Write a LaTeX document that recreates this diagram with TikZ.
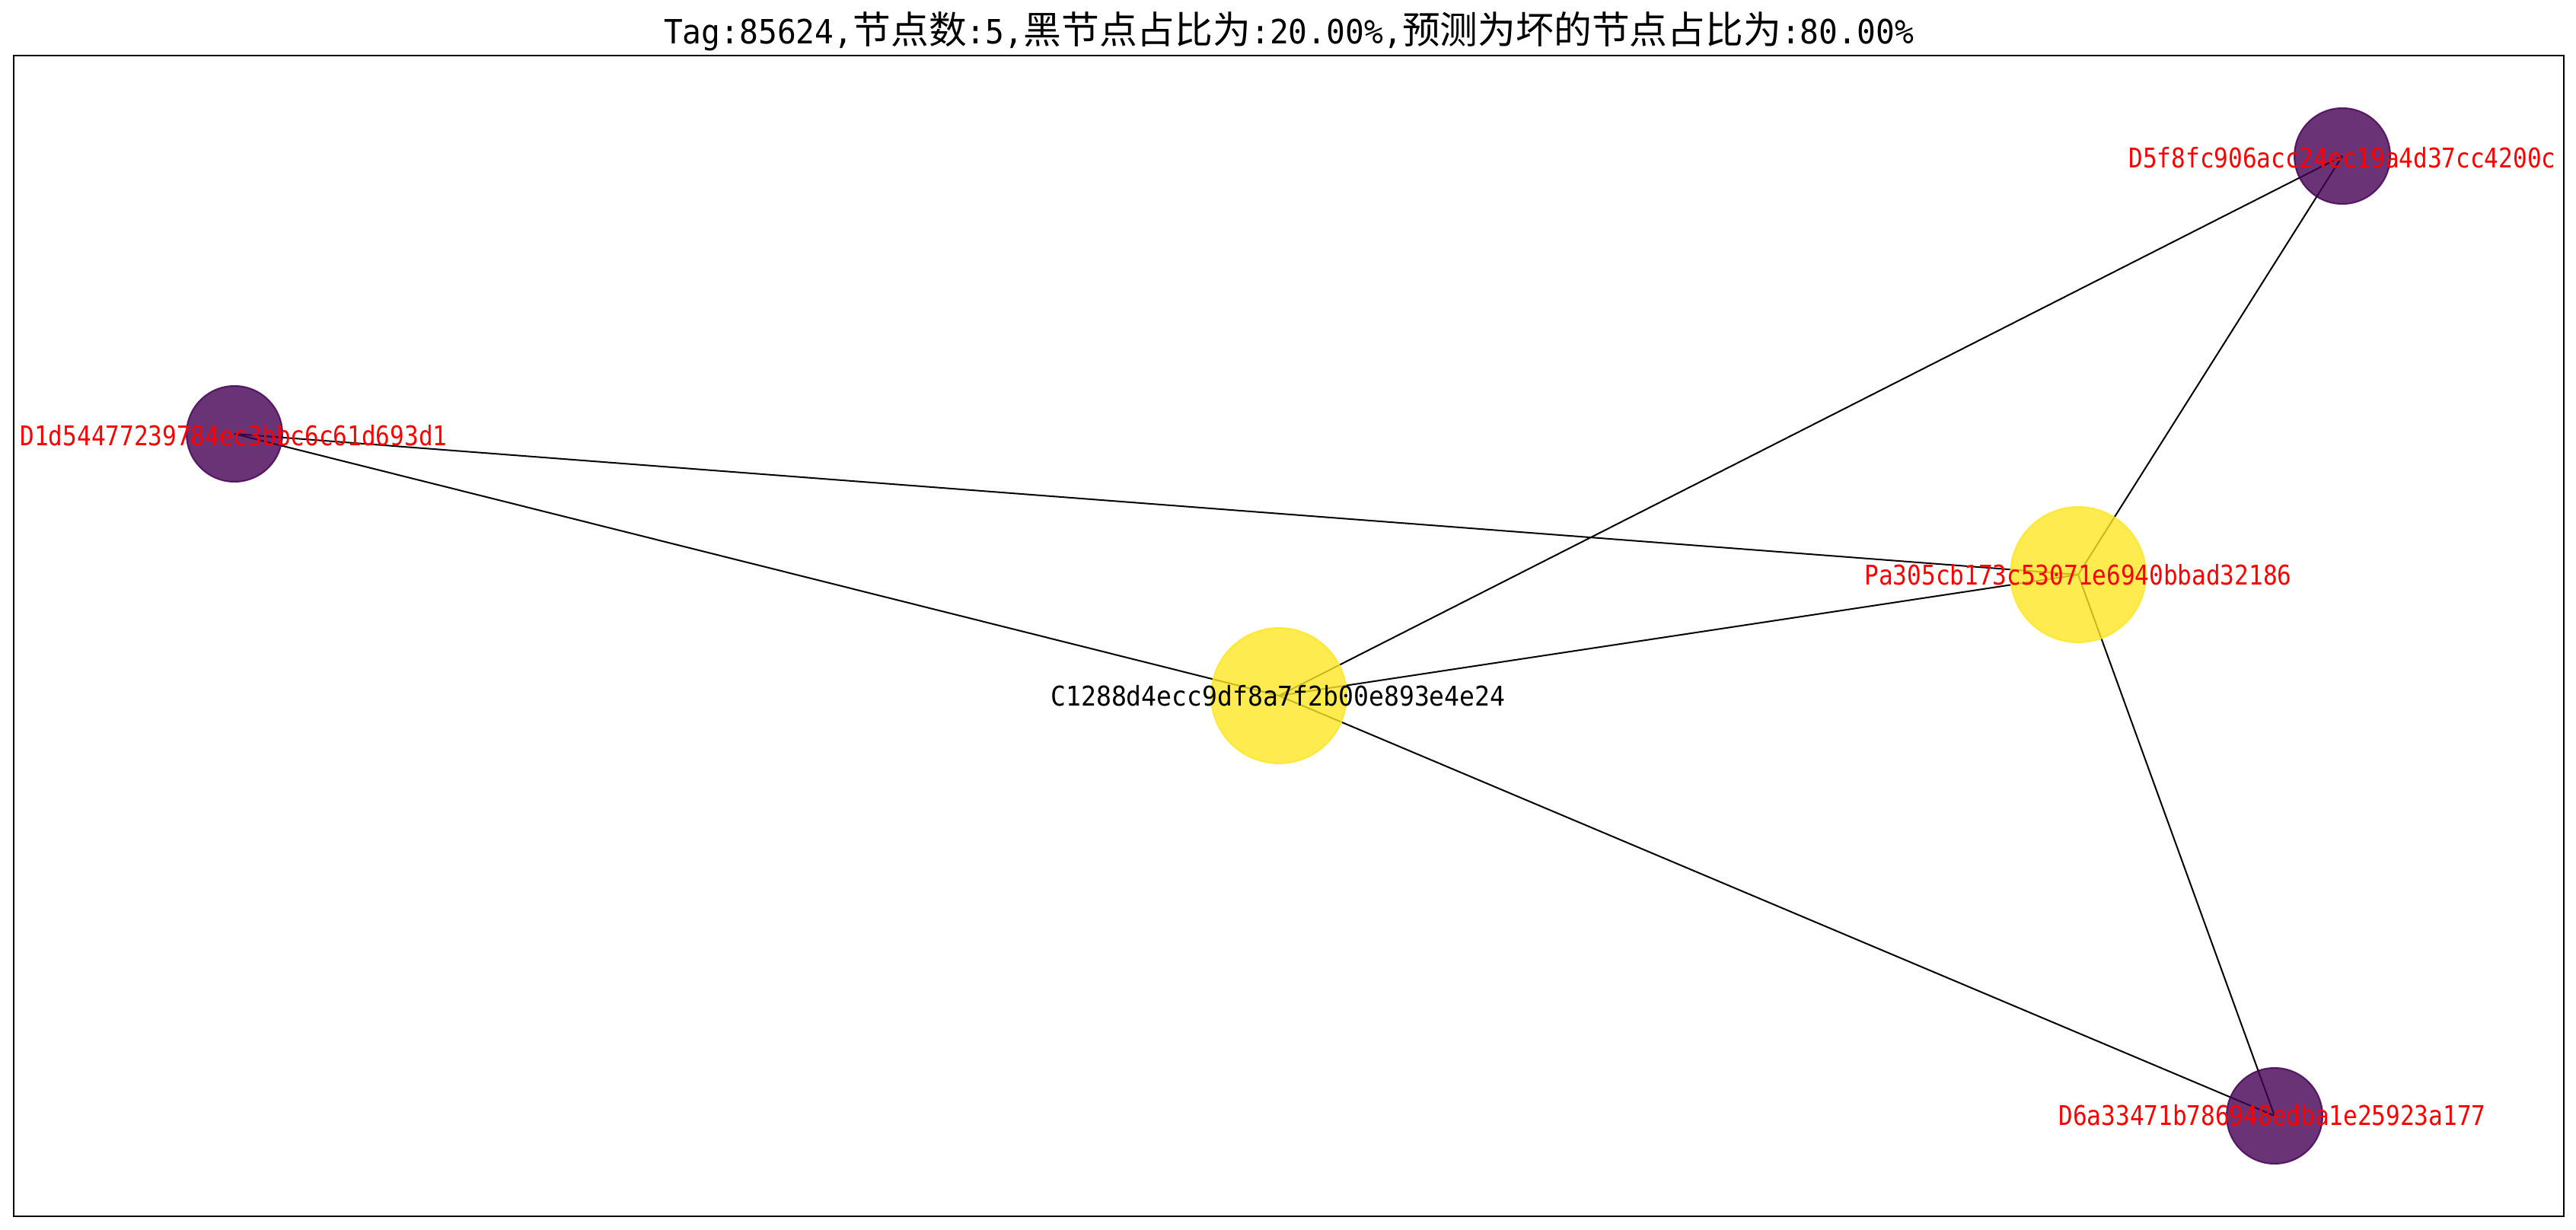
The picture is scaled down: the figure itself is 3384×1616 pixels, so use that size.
\documentclass[tikz,border=0pt]{standalone}
\usepackage{fontspec}
\newfontfamily\labredfont[FakeStretch=0.87]{DejaVu Sans Mono}
\newfontfamily\labblkfont[FakeStretch=0.926]{DejaVu Sans Mono}
\newfontfamily\titlatfont[FakeStretch=0.94]{DejaVu Sans Mono}
\newfontfamily\titcjkfont{Noto Sans CJK SC}
\newcommand\TLat[1]{{\fontsize{43.9}{50}\selectfont\titlatfont #1}}
\newcommand\TCjk[1]{{\fontsize{49.8}{55}\selectfont\titcjkfont #1}}
\definecolor{vpurple}{HTML}{440154}
\definecolor{vyellow}{HTML}{FDE725}
\pgfdeclarelayer{bg}
\pgfdeclarelayer{edgelayer}
\pgfsetlayers{bg,edgelayer,main}
\begin{document}
\begin{tikzpicture}[x=1pt,y=-1pt,
  edge/.style={draw=black,line width=2pt},
  purp/.style={circle,minimum size=126pt,inner sep=0pt,fill=vpurple,draw=vpurple,fill opacity=0.8,draw opacity=0.8,line width=2pt},
  yell/.style={circle,minimum size=178pt,inner sep=0pt,fill=vyellow,draw=vyellow,fill opacity=0.8,draw opacity=0.8,line width=2pt},
  redlab/.style={text=red,font=\fontsize{35.7}{40}\selectfont\labredfont,inner sep=0pt,anchor=center},
  blklab/.style={text=black,font=\fontsize{35.7}{40}\selectfont\labblkfont,inner sep=0pt,anchor=center}]
\useasboundingbox (0,0) rectangle (3384,1616);
\begin{pgfonlayer}{bg}
\fill[white] (0,0) rectangle (3384,1616);
\end{pgfonlayer}
\draw[line width=2.7pt] (18,73) rectangle (3368,1598);
\node[anchor=base,inner sep=0pt] (title) at (1693,58) {\TLat{Tag:85624,}\TCjk{节点数}\TLat{:5,}\TCjk{黑节点占比为}\TLat{:20.00\%,}\TCjk{预测为坏的节点占比为}\TLat{:80.00\%}};
% nodes
\node[purp] (d5) at (3077,205) {};
\node[purp] (d1) at (308,570) {};
\node[yell] (pa) at (2730,755) {};
\node[yell] (c1) at (1680,914) {};
\node[purp] (d6) at (2988,1466) {};
% edges
\begin{pgfonlayer}{edgelayer}
\draw[edge] (d1.center) -- (pa.center);
\draw[edge] (d1.center) -- (c1.center);
\draw[edge] (c1.center) -- (d5.center);
\draw[edge] (c1.center) -- (pa.center);
\draw[edge] (c1.center) -- (d6.center);
\draw[edge] (pa.center) -- (d5.center);
\draw[edge] (pa.center) -- (d6.center);
\end{pgfonlayer}
% labels
\node[redlab] (d5t) at (3077,207) {D5f8fc906acc24ec19a4d37cc4200c};
\node[redlab] (d1t) at (307,572) {D1d54477239784ec3bbc6c61d693d1};
\node[redlab] (pat) at (2730,755) {Pa305cb173c53071e6940bbad32186};
\node[blklab] (c1t) at (1679,914) {C1288d4ecc9df8a7f2b00e893e4e24};
\node[redlab] (d6t) at (2985,1465) {D6a33471b786948edba1e25923a177};
\end{tikzpicture}
\end{document}
